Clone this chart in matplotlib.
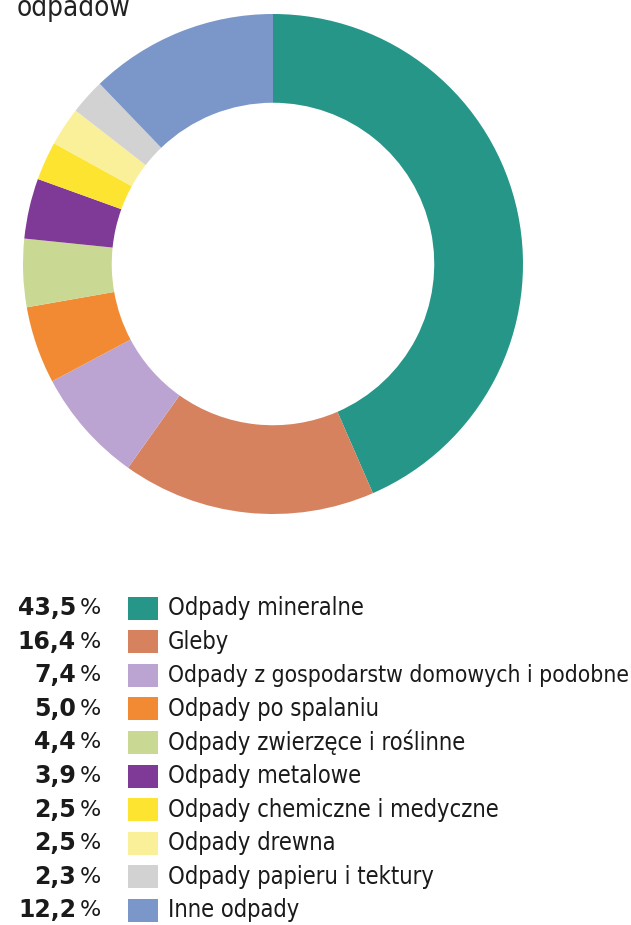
import matplotlib
matplotlib.use('Agg')
import matplotlib.pyplot as plt
from matplotlib.patches import Rectangle

labels = ['Odpady mineralne', 'Gleby', 'Odpady z gospodarstw domowych i podobne',
          'Odpady po spalaniu', 'Odpady zwierzęce i roślinne', 'Odpady metalowe',
          'Odpady chemiczne i medyczne', 'Odpady drewna', 'Odpady papieru i tektury',
          'Inne odpady']
values = [43.5, 16.4, 7.4, 5.0, 4.4, 3.9, 2.5, 2.5, 2.3, 12.2]
pct_text = ['43,5', '16,4', '7,4', '5,0', '4,4', '3,9', '2,5', '2,5', '2,3', '12,2']
colors = ['#259688', '#d6825f', '#bba4d2', '#f28a33', '#c9d993', '#7f3a97',
          '#fde431', '#faf09a', '#d2d2d2', '#7b96c9']

W, H = 631, 925
fig = plt.figure(figsize=(W / 100, H / 100), dpi=100)
fam = ['DejaVu Sans']

# donut: centre (273, 264) px, outer radius 250 px
cx, cy, r = 273, 264, 250
ax = fig.add_axes([(cx - r) / W, (H - cy - r) / H, 2 * r / W, 2 * r / H])
ax.pie(values, colors=colors, startangle=90, counterclock=False, radius=1,
       wedgeprops=dict(width=0.355, linewidth=0))
ax.set_xlim(-1, 1)
ax.set_ylim(-1, 1)
ax.axis('off')

# overlay in pixel coordinates for text and legend
ov = fig.add_axes([0, 0, 1, 1])
ov.set_xlim(0, W)
ov.set_ylim(H, 0)
ov.axis('off')

ov.text(17, 16, 'odpadów', fontsize=20, color='#222222', va='baseline',
        ha='left', family=fam, fontstretch='condensed')

renderer = fig.canvas.get_renderer()
y0, step = 608, 33.6
for i, (lab, p, c) in enumerate(zip(labels, pct_text, colors)):
    y = y0 + i * step
    ov.text(76, y, p, fontsize=17, fontweight='bold', color='#1a1a1a',
            ha='right', va='center', family=fam)
    ov.text(80, y, '%', fontsize=16, color='#1a1a1a', ha='left', va='center',
            family=fam)
    ov.add_patch(Rectangle((128, y - 11.5), 30, 23, color=c, lw=0))
    t = ov.text(168, y, lab, fontsize=17, color='#1a1a1a', ha='left', va='center',
                family=fam, fontstretch='condensed')
    # shrink the long label so it fits inside the figure
    w = t.get_window_extent(renderer).width
    if 168 + w > 627:
        t.set_fontsize(17 * (627 - 168) / w)

fig.savefig('out.png', dpi=100)
